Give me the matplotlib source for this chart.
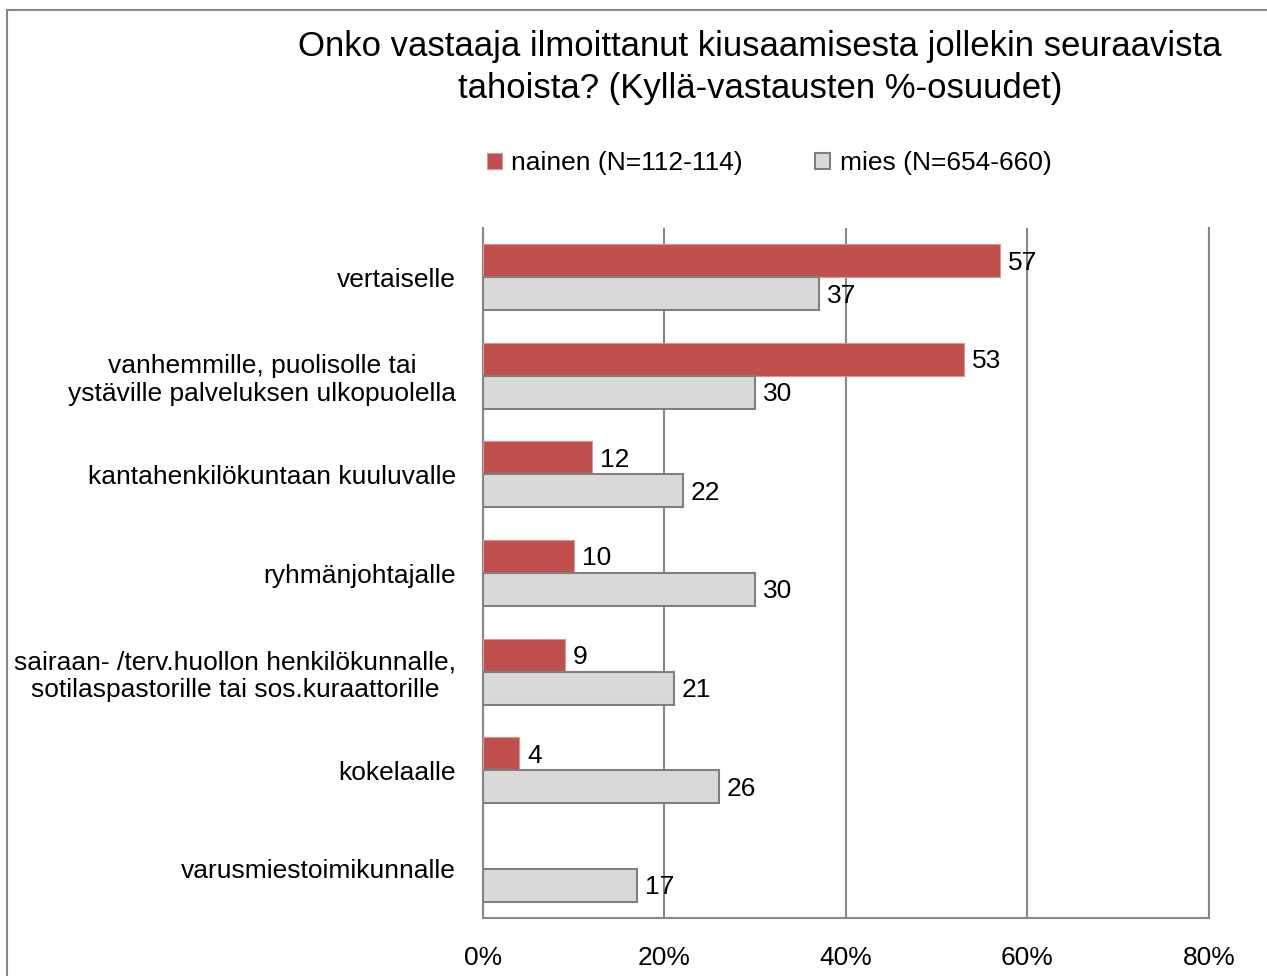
import numpy as np
import matplotlib
matplotlib.use("Agg")
import matplotlib.pyplot as plt
from matplotlib.patches import Rectangle

plt.rcParams['font.family'] = ['Liberation Sans', 'DejaVu Sans']

categories = [
    "vertaiselle",
    "vanhemmille, puolisolle tai\nystäville palveluksen ulkopuolella",
    "kantahenkilökuntaan kuuluvalle",
    "ryhmänjohtajalle",
    "sairaan- /terv.huollon henkilökunnalle,\nsotilaspastorille tai sos.kuraattorille",
    "kokelaalle",
    "varusmiestoimikunnalle",
]
nainen = [57, 53, 12, 10, 9, 4, np.nan]
mies = [37, 30, 22, 30, 21, 26, 17]
series_labels = ["nainen (N=112-114)", "mies (N=654-660)"]
xticks = [0, 20, 40, 60, 80]

red = "#C0504D"
grey = "#D9D9D9"
grid_col = "#878787"

fig = plt.figure(figsize=(12.67, 9.76), dpi=100)
ax = fig.add_axes([0.3812, 0.0594, 0.5730, 0.7070])

y = np.arange(len(categories))
h = 0.335
b1 = ax.barh(y - h / 2, nainen, height=h, color=red, edgecolor="#D99694", lw=0.8,
             label=series_labels[0], zorder=3)
b2 = ax.barh(y + h / 2, mies, height=h, color=grey, edgecolor="#7F7F7F", lw=1.5,
             label=series_labels[1], zorder=3)

# data labels next to the bar ends
for yy, v in zip(y - h / 2, nainen):
    if not np.isnan(v):
        ax.text(v + 0.9, yy + 0.02, f"{v:.0f}", va="center", ha="left", fontsize=19, zorder=4)
for yy, v in zip(y + h / 2, mies):
    ax.text(v + 0.9, yy + 0.02, f"{v:.0f}", va="center", ha="left", fontsize=19, zorder=4)

ax.set_xlim(0, 80)
ax.set_ylim(len(categories) - 0.5, -0.5)
ax.set_xticks(xticks)
ax.set_xticklabels([f"{t}%" for t in xticks], fontsize=19)
ax.set_yticks(y)
ax.set_yticklabels(categories, fontsize=19, multialignment="center", linespacing=1.2)
ax.tick_params(axis="both", length=0)
ax.tick_params(axis="x", pad=20)
ax.tick_params(axis="y", pad=19.5)
ax.xaxis.grid(True, color=grid_col, lw=1.5, zorder=0)
ax.set_axisbelow(True)
ax.spines["top"].set_visible(False)
for s in ["left", "bottom", "right"]:
    ax.spines[s].set_color(grid_col)
    ax.spines[s].set_linewidth(1.5)

fig.text(0.600, 0.931, "Onko vastaaja ilmoittanut kiusaamisesta jollekin seuraavista\ntahoista? (Kyllä-vastausten %-osuudet)",
         ha="center", va="center", fontsize=25, multialignment="center", linespacing=1.32)

fig.legend(handles=[b1, b2], labels=series_labels, loc="center", bbox_to_anchor=(0.607, 0.833),
           ncol=2, frameon=False, fontsize=19, handlelength=0.57, handleheight=0.57,
           handletextpad=0.35, columnspacing=2.75)

# chart-area border (cut off at right and bottom in the original)
fig.patches.append(Rectangle((7 / 1267, -0.1), 1.2, 1 - 10 / 976 + 0.1, transform=fig.transFigure,
                             fill=False, edgecolor="#878787", lw=1.5, zorder=0))

fig.savefig("out.png", dpi=100)
